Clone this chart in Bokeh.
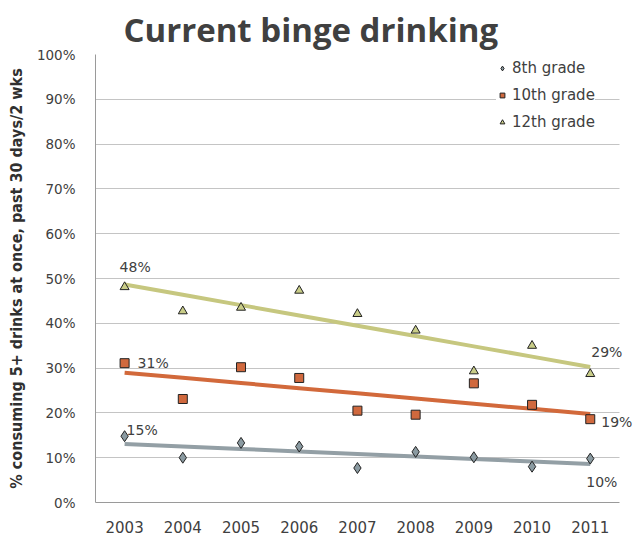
import numpy as np
from bokeh.plotting import figure
from bokeh.models import (FixedTicker, PrintfTickFormatter, Legend, LegendItem,
                          Label)
from bokeh.embed import file_html
from bokeh.resources import INLINE

# Survey years and percentage of students reporting binge drinking
years = [2003, 2004, 2005, 2006, 2007, 2008, 2009, 2010, 2011]
grade8 = [14.8, 10.0, 13.3, 12.5, 7.7, 11.3, 10.1, 8.0, 9.8]
grade10 = [31.1, 23.1, 30.2, 27.8, 20.5, 19.6, 26.6, 21.8, 18.6]
grade12 = [48.1, 42.7, 43.5, 47.3, 42.1, 38.4, 29.3, 35.0, 28.7]
y_ticks = [0, 10, 20, 30, 40, 50, 60, 70, 80, 90, 100]

series = [
    ("8th grade", grade8, "diamond", "#8a9aa1", "#939fa5", 11),
    ("10th grade", grade10, "square", "#d0693e", "#d2693b", 9),
    ("12th grade", grade12, "triangle", "#c9cd88", "#c6c77f", 9),
]

TXT = "#404040"
TICK_FONT = "DejaVu Sans"

# half-year margin on the left; the right side leaves room for the callouts
x_lo, x_hi, x_room = years[0] - 0.5, years[-1] + 0.5, years[-1] + 0.76

p = figure(width=634, height=535, x_range=(x_lo, x_room), y_range=(0, 100),
           output_backend="svg", toolbar_location=None,
           min_border_left=95, min_border_right=0, min_border_top=54,
           min_border_bottom=33, outline_line_color=None,
           background_fill_color="white", border_fill_color="white")

p.title.text = "Current binge drinking"
p.title.text_font = "Open Sans"
p.title.text_font_style = "bold"
p.title.text_font_size = "33px"
p.title.text_color = TXT
p.title.align = "left"
p.title.offset = 28
p.title.standoff = 6

p.xgrid.grid_line_color = None
p.ygrid.grid_line_color = "#c4c4c4"
p.ygrid.grid_line_width = 1
p.ygrid.cross_bounds = (x_lo, x_hi)

p.xaxis.ticker = FixedTicker(ticks=years)
p.xaxis.bounds = (x_lo, x_hi)
p.yaxis.ticker = FixedTicker(ticks=y_ticks)
p.yaxis.formatter = PrintfTickFormatter(format="%d%%")
p.yaxis.axis_label = "% consuming 5+ drinks at once, past 30 days/2 wks"
p.yaxis.axis_label_text_font = "DejaVu Sans Condensed"
p.yaxis.axis_label_text_font_style = "bold"
p.yaxis.axis_label_text_font_size = "16px"
p.yaxis.axis_label_text_color = "#303030"
p.yaxis.axis_label_standoff = 8

for ax in (p.xaxis[0], p.yaxis[0]):
    ax.axis_line_color = "#9a9a9a"
    ax.major_tick_line_color = None
    ax.minor_tick_line_color = None
    ax.major_label_text_font = TICK_FONT
    ax.major_label_text_color = TXT
p.yaxis.major_label_text_font_size = "13.5px"
p.yaxis.major_label_standoff = 14
p.xaxis.major_label_text_font_size = "15px"
p.xaxis.major_label_standoff = 12

xs = np.array(years, dtype=float)
legend_items = []
for name, vals, marker, fill, trend_color, size in series:
    # least-squares trend line across the survey years
    slope, intercept = np.polyfit(xs, vals, 1)
    trend = [slope * x + intercept for x in xs]
    p.line(x=years, y=trend, line_color=trend_color, line_width=4)
    r = p.scatter(x=years, y=vals, marker=marker, size=size,
                  fill_color=fill, line_color="#222222", line_width=1)
    legend_items.append(LegendItem(label=name, renderers=[r]))

# Value callouts for the first and last years: (year, value, x shift, y shift)
callouts = [
    (years[0], grade12[0], -5, 20),
    (years[-1], grade12[-1], 1, 22),
    (years[0], grade10[0], 13, 0),
    (years[-1], grade10[-1], 11, -3),
    (years[0], grade8[0], 2, 6),
    (years[-1], grade8[-1], -4, -23),
]
for yr, v, dx, dy in callouts:
    p.add_layout(Label(x=yr, y=v, text=f"{round(v)}%",
                       x_offset=dx, y_offset=dy, text_font=TICK_FONT,
                       text_font_size="14px", text_color=TXT,
                       text_baseline="middle", text_align="left"))

legend = Legend(items=legend_items, location=(401, 371),
                label_text_font=TICK_FONT, label_text_font_size="15px",
                label_text_color=TXT, border_line_color=None,
                background_fill_color="white", background_fill_alpha=1,
                glyph_width=12, glyph_height=18, spacing=9, padding=4,
                margin=0, label_standoff=4)
p.add_layout(legend)

open("out.html", "w").write(file_html(p, INLINE))
